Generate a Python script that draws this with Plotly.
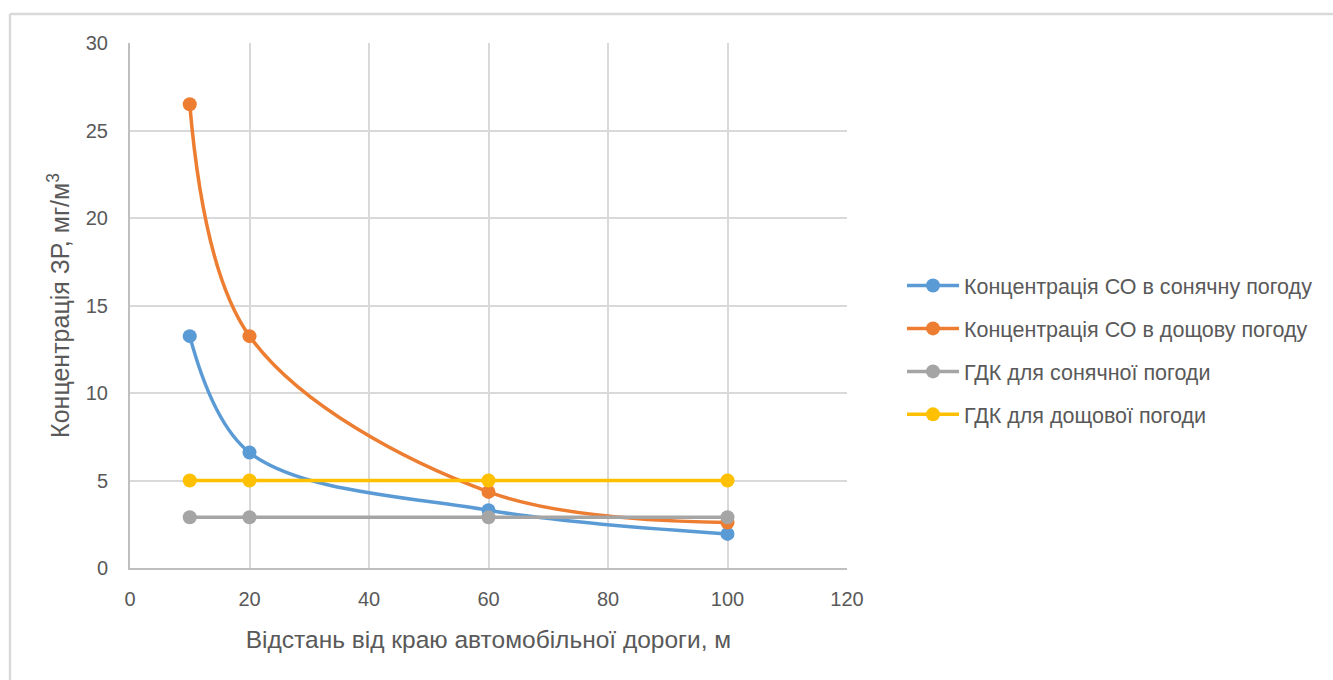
import plotly.graph_objects as go

# Distance from road edge, m
distance = [10, 20, 60, 100]

# CO concentration, mg/m3
co_sunny = [13.25, 6.6, 3.3, 1.95]
co_rainy = [26.5, 13.25, 4.35, 2.6]
mpc_sunny = [2.9, 2.9, 2.9, 2.9]
mpc_rainy = [5, 5, 5, 5]

series_names = [
    "Концентрація СО в сонячну погоду",
    "Концентрація СО в дощову погоду",
    "ГДК для сонячної погоди",
    "ГДК для дощової погоди",
]
series_values = [co_sunny, co_rainy, mpc_sunny, mpc_rainy]
series_colors = ["#5b9bd5", "#ed7d31", "#a5a5a5", "#ffc000"]
series_smooth = [True, True, False, False]

x_ticks = [0, 20, 40, 60, 80, 100, 120]
y_ticks = [0, 5, 10, 15, 20, 25, 30]

FONT = "Liberation Sans"
TEXT = "#595959"
GRID = "#d9d9d9"

fig = go.Figure()
for i, (name, vals, col, smooth) in enumerate(
        zip(series_names, series_values, series_colors, series_smooth)):
    fig.add_trace(go.Scatter(
        x=distance, y=vals, name=name, mode="lines+markers",
        line=dict(color=col, width=3.5,
                  shape="spline" if smooth else "linear", smoothing=1.0),
        marker=dict(color=col, size=14),
        legendgroup=f"g{i}",
    ))

W, H = 1333, 680
L, R, T, B = 130, 847, 43, 568
pw, ph = R - L, B - T


def px(xp):
    return (xp - L) / pw


def py(yp):
    return (B - yp) / ph


# outer chart-area border (left and top edges)
fig.add_shape(type="line", xref="paper", yref="paper",
              x0=px(10), x1=px(10), y0=py(14), y1=py(700),
              line=dict(color="#d9d9d9", width=2.5))
fig.add_shape(type="line", xref="paper", yref="paper",
              x0=px(10), x1=px(1340), y0=py(14), y1=py(14),
              line=dict(color="#d9d9d9", width=2.5))

fig.update_layout(
    width=W, height=H,
    margin=dict(l=L, r=W - R, t=T, b=H - B),
    paper_bgcolor="white", plot_bgcolor="white",
    font=dict(family=FONT, color=TEXT, size=20),
    showlegend=True,
    legend=dict(x=px(902), y=py(350), xanchor="left", yanchor="middle",
                font=dict(size=21.5, color=TEXT), tracegroupgap=12,
                itemwidth=52, bgcolor="rgba(0,0,0,0)"),
    xaxis=dict(range=[0, 120], tickvals=x_ticks, showgrid=True,
               gridcolor=GRID, gridwidth=2, zeroline=False,
               showline=True, linecolor="#bfbfbf", linewidth=2,
               ticks="outside", ticklen=12, tickcolor="rgba(0,0,0,0)",
               tickfont=dict(size=20, color=TEXT),
               title=dict(text="Відстань від краю автомобільної дороги, м",
                          font=dict(size=24.5, color=TEXT), standoff=22)),
    yaxis=dict(range=[0, 30], tickvals=y_ticks, showgrid=True,
               gridcolor=GRID, gridwidth=2, zeroline=False,
               showline=True, linecolor="#bfbfbf", linewidth=2,
               ticks="outside", ticklen=16, tickcolor="rgba(0,0,0,0)",
               tickfont=dict(size=20, color=TEXT),
               title=dict(text="Концентрація ЗР, мг/м<sup>3</sup>",
                          font=dict(size=25, color=TEXT), standoff=9)),
)

fig.write_html("out.html")
